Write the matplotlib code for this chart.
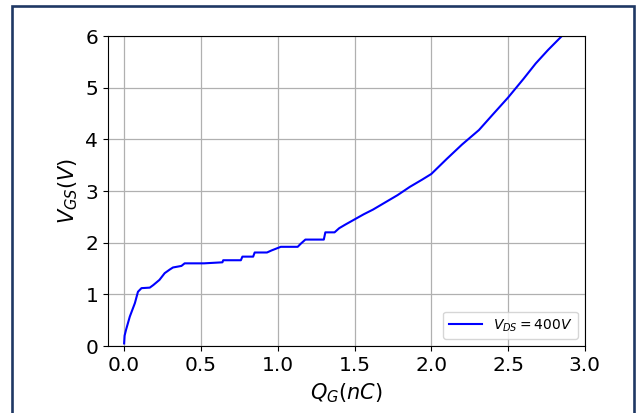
import matplotlib
matplotlib.use('Agg')
from matplotlib import pyplot as plt
from matplotlib.patches import Rectangle

# gate charge curve, Q_G in nC, V_GS in V
q_g = [0.0, 0.003, 0.012, 0.037, 0.07, 0.09, 0.113, 0.167, 0.19, 0.23,
       0.264, 0.297, 0.318, 0.373, 0.394, 0.52, 0.64, 0.645, 0.76, 0.77,
       0.84, 0.85, 0.93, 0.96, 1.02, 1.13, 1.15, 1.18, 1.30, 1.31, 1.37,
       1.40, 1.44, 1.50, 1.56, 1.62, 1.70, 1.78, 1.86, 1.94, 2.0, 2.1,
       2.2, 2.31, 2.4, 2.5, 2.6, 2.68, 2.76, 2.85]
v_gs = [0.05, 0.2, 0.31, 0.57, 0.83, 1.05, 1.12, 1.13, 1.18, 1.28,
        1.41, 1.48, 1.52, 1.55, 1.60, 1.60, 1.62, 1.66, 1.66, 1.73,
        1.73, 1.81, 1.81, 1.85, 1.92, 1.92, 1.98, 2.06, 2.06, 2.2, 2.2,
        2.28, 2.35, 2.45, 2.55, 2.64, 2.78, 2.92, 3.08, 3.22, 3.33, 3.62,
        3.9, 4.18, 4.48, 4.81, 5.17, 5.47, 5.73, 6.0]
legend_label = r'$V_{DS} = 400V$'

fig = plt.figure(figsize=(6.41, 4.13), dpi=100)
ax = fig.add_axes([0.1685, 0.1622, 0.744, 0.7506])
ax.plot(q_g, v_gs, color='#0000ff', lw=1.5, label=legend_label)
ax.set_xlim(-0.105, 3.0)
ax.set_ylim(0, 6)
ax.set_xticks([0.0, 0.5, 1.0, 1.5, 2.0, 2.5, 3.0])
ax.set_yticks(range(7))
ax.grid(True, color='#b0b0b0', lw=0.9)
ax.tick_params(labelsize=14.5)
ax.set_xlabel(r'$Q_G(nC)$', fontsize=15, labelpad=5)
ax.set_ylabel(r'$V_{GS}(V)$', fontsize=15, labelpad=4)
ax.legend(loc='lower right', fontsize=10, handlelength=2.4)

# dark frame round the whole picture
fig.patches.append(Rectangle((0.0187, -0.05), 0.9703, 1.0355,
                             transform=fig.transFigure, fill=False,
                             edgecolor='#1f3864', lw=1.9))

fig.savefig('out.png', dpi=100)
